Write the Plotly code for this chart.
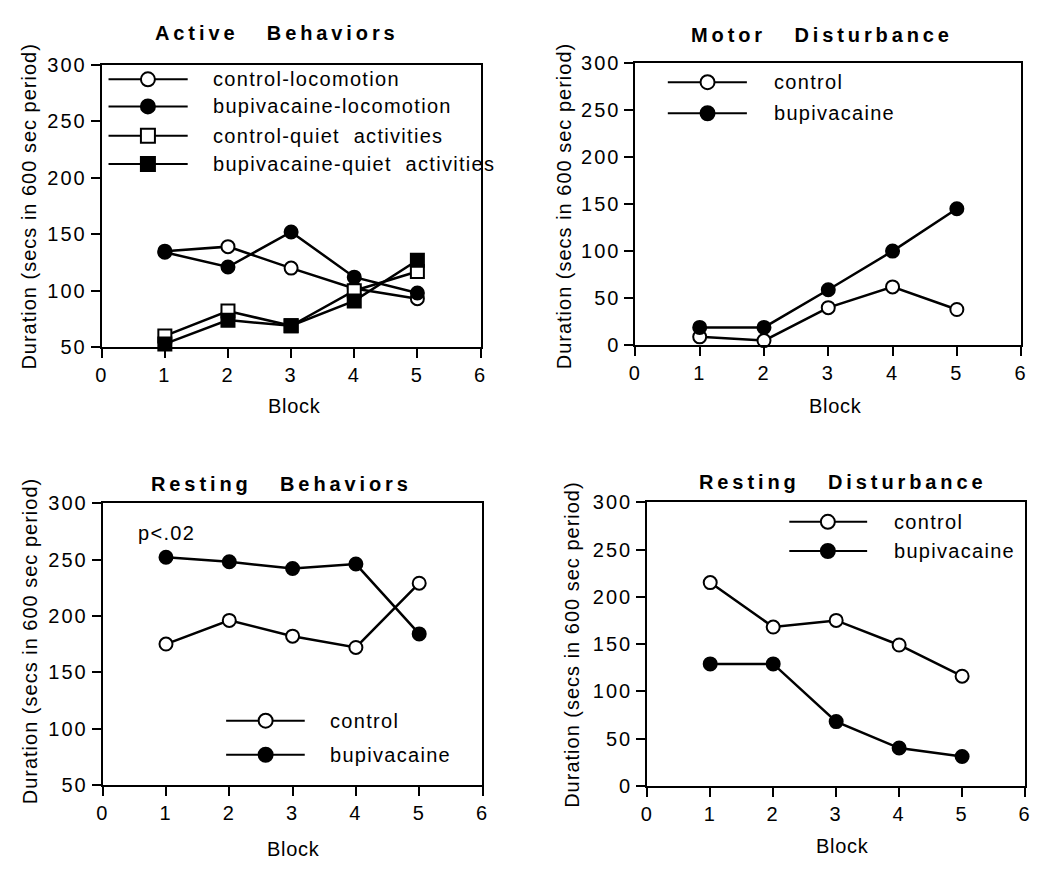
import plotly.graph_objects as go

# ---- data -------------------------------------------------------------
blocks = [1, 2, 3, 4, 5]
x_ticks = [0, 1, 2, 3, 4, 5, 6]

active_control_locomotion = [135, 139, 120, 102, 93]
active_bupivacaine_locomotion = [134, 121, 152, 112, 98]
active_control_quiet = [60, 82, 69, 100, 117]
active_bupivacaine_quiet = [53, 74, 69, 91, 127]

motor_control = [9, 5, 40, 62, 38]
motor_bupivacaine = [19, 19, 59, 100, 145]

resting_beh_control = [175, 196, 182, 172, 229]
resting_beh_bupivacaine = [252, 248, 242, 246, 184]

resting_dist_control = [215, 168, 175, 149, 116]
resting_dist_bupivacaine = [129, 129, 68, 40, 31]

y_ticks_50 = [50, 100, 150, 200, 250, 300]
y_ticks_0 = [0, 50, 100, 150, 200, 250, 300]

# ---- styling helpers --------------------------------------------------
W, H = 1038, 869
FONT = "Liberation Sans, Arial, Helvetica, sans-serif"
NB = "\u00a0"


def spaced(text, px):
    return f'<span style="letter-spacing:{px}px">{text}</span>'


def px_x(p):
    return p / W


def px_y(p):
    return 1 - p / H


OPEN = dict(color="white", line=dict(color="black", width=2))
FILLED = dict(color="black", line=dict(color="black", width=2))

panels = [
    dict(
        box=(96, 55, 480, 345), yrange=[50, 300], yticks=y_ticks_50,
        title="Active" + NB * 3 + "Behaviors", title_xy=(274, 23),
        ytitle_xy=(22, 201), xtitle_xy=(291, 405),
        series=[
            ("control-locomotion", active_control_locomotion, "circle", OPEN),
            ("bupivacaine-locomotion", active_bupivacaine_locomotion, "circle", FILLED),
            ("control-quiet" + NB * 2 + "activities", active_control_quiet, "square", OPEN),
            ("bupivacaine-quiet" + NB * 2 + "activities", active_bupivacaine_quiet, "square", FILLED),
        ],
        legend=dict(x0=0.018, x1=0.227, xm=0.122, xt=0.289,
                    ys=[0.948, 0.852, 0.748, 0.648]),
    ),
    dict(
        box=(637, 53, 1028, 343), yrange=[0, 300], yticks=y_ticks_0,
        title="Motor" + NB * 3 + "Disturbance", title_xy=(826, 25),
        ytitle_xy=(565, 200), xtitle_xy=(840, 405),
        series=[
            ("control", motor_control, "circle", OPEN),
            ("bupivacaine", motor_bupivacaine, "circle", FILLED),
        ],
        legend=dict(x0=0.084, x1=0.289, xm=0.187, xt=0.353,
                    ys=[0.931, 0.821]),
    ),
    dict(
        box=(97, 505, 482, 794), yrange=[50, 300], yticks=y_ticks_50,
        title="Resting" + NB * 3 + "Behaviors", title_xy=(278, 485),
        ytitle_xy=(23, 647), xtitle_xy=(290, 860),
        series=[
            ("control", resting_beh_control, "circle", OPEN),
            ("bupivacaine", resting_beh_bupivacaine, "circle", FILLED),
        ],
        legend=dict(x0=0.325, x1=0.532, xm=0.429, xt=0.592,
                    ys=[0.228, 0.107]),
        note=("p<.02", 162, 536),
    ),
    dict(
        box=(649, 504, 1032, 795), yrange=[0, 300], yticks=y_ticks_0,
        title="Resting" + NB * 3 + "Disturbance", title_xy=(847, 483),
        ytitle_xy=(572, 650), xtitle_xy=(847, 857),
        series=[
            ("control", resting_dist_control, "circle", OPEN),
            ("bupivacaine", resting_dist_bupivacaine, "circle", FILLED),
        ],
        legend=dict(x0=0.376, x1=0.582, xm=0.478, xt=0.648,
                    ys=[0.931, 0.828]),
    ),
]

fig = go.Figure()
annotations = []
shapes = []
layout_axes = {}

for i, p in enumerate(panels, start=1):
    xa = "x" if i == 1 else f"x{i}"
    ya = "y" if i == 1 else f"y{i}"
    xkey = "xaxis" if i == 1 else f"xaxis{i}"
    ykey = "yaxis" if i == 1 else f"yaxis{i}"
    left, top, right, bottom = p["box"]

    common = dict(
        showline=True, linewidth=2, linecolor="black", mirror=True,
        ticks="outside", ticklen=9, tickwidth=2, tickcolor="black",
        showgrid=False, zeroline=False,
        tickfont=dict(family=FONT, size=20, color="black"),
    )
    layout_axes[xkey] = dict(
        common, domain=[px_x(left), px_x(right)], anchor=ya,
        range=[0, 6], tickvals=x_ticks,
        ticktext=[spaced(str(v), 2) for v in x_ticks],
    )
    layout_axes[ykey] = dict(
        common, domain=[px_y(bottom), px_y(top)], anchor=xa,
        range=p["yrange"], tickvals=p["yticks"],
        ticktext=[spaced(str(v), 2) for v in p["yticks"]],
    )

    for name, vals, sym, mk in p["series"]:
        fig.add_trace(go.Scatter(
            x=blocks, y=vals, name=name, mode="lines+markers",
            xaxis=xa, yaxis=ya, cliponaxis=False, showlegend=False,
            line=dict(color="black", width=2.5),
            marker=dict(symbol=sym, size=13, **mk),
        ))

    # legend keys
    lg = p["legend"]
    xd, yd = f"{xa} domain", f"{ya} domain"
    for (name, _vals, sym, mk), yy in zip(p["series"], lg["ys"]):
        shapes.append(dict(type="line", xref=xd, yref=yd,
                           x0=lg["x0"], x1=lg["x1"], y0=yy, y1=yy,
                           line=dict(color="black", width=2)))
        shapes.append(dict(type="circle" if sym == "circle" else "rect",
                           xref=xd, yref=yd,
                           xsizemode="pixel", ysizemode="pixel",
                           xanchor=lg["xm"], yanchor=yy,
                           x0=-7, x1=7, y0=-7, y1=7,
                           fillcolor=mk["color"],
                           line=dict(color="black", width=2)))
        annotations.append(dict(
            xref=xd, yref=yd, x=lg["xt"], y=yy, xanchor="left",
            yanchor="middle", showarrow=False, text=spaced(name, 1.3),
            font=dict(family=FONT, size=20, color="black")))

    # panel title
    tx, ty = p["title_xy"]
    annotations.append(dict(
        xref="paper", yref="paper", x=px_x(tx), y=px_y(ty),
        xanchor="center", yanchor="middle", showarrow=False,
        text="<b>" + spaced(p["title"], 3.9) + "</b>",
        font=dict(family=FONT, size=20, color="black")))

    # axis titles
    yx, yy_ = p["ytitle_xy"]
    annotations.append(dict(
        xref="paper", yref="paper", x=px_x(yx), y=px_y(yy_),
        xanchor="center", yanchor="middle", showarrow=False, textangle=-90,
        text=spaced("Duration" + NB + "(secs" + NB + "in" + NB + "600" + NB
                    + "sec" + NB + "period)", 1.0),
        font=dict(family=FONT, size=20, color="black")))
    bx, by = p["xtitle_xy"]
    annotations.append(dict(
        xref="paper", yref="paper", x=px_x(bx), y=px_y(by),
        xanchor="center", yanchor="middle", showarrow=False,
        text=spaced("Block", 0.7),
        font=dict(family=FONT, size=20, color="black")))

    if "note" in p:
        nt, nx, ny = p["note"]
        annotations.append(dict(
            xref="paper", yref="paper", x=px_x(nx), y=px_y(ny),
            xanchor="center", yanchor="middle", showarrow=False,
            text=spaced(nt, 1.3),
            font=dict(family=FONT, size=20, color="black")))

fig.update_layout(
    width=W, height=H,
    margin=dict(l=0, r=0, t=0, b=0),
    paper_bgcolor="white", plot_bgcolor="white",
    font=dict(family=FONT, color="black"),
    showlegend=False,
    annotations=annotations,
    shapes=shapes,
    **layout_axes,
)

fig.write_html("out.html")
